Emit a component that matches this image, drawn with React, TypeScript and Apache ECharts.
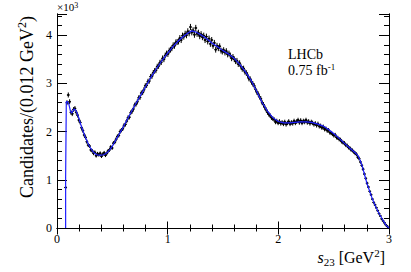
import React, { useEffect, useRef } from "react";
import * as echarts from "echarts";

// Binning: 0.012 GeV^2 bins from 0 to 3; first filled bin index
const BIN_WIDTH = 0.012;
const FIRST_BIN = 6;

// Candidates per bin (x10^3), bins 6..249
const dataValues = [
  0.84,
  2.60, 2.76, 2.62, 2.40, 2.37, 2.46, 2.48, 2.40, 2.34, 2.24,
  2.19, 2.08, 2.02, 1.93, 1.88, 1.79, 1.72, 1.70, 1.62, 1.60,
  1.55, 1.57, 1.50, 1.54, 1.52, 1.55, 1.49, 1.53, 1.56, 1.51,
  1.55, 1.60, 1.62, 1.68, 1.66, 1.76, 1.78, 1.84, 1.90, 1.92,
  2.00, 2.03, 2.06, 2.13, 2.15, 2.22, 2.29, 2.30, 2.39, 2.42,
  2.47, 2.55, 2.57, 2.62, 2.70, 2.71, 2.80, 2.81, 2.87, 2.95,
  2.96, 3.04, 3.05, 3.14, 3.15, 3.22, 3.26, 3.27, 3.35, 3.36,
  3.43, 3.44, 3.52, 3.50, 3.58, 3.62, 3.61, 3.68, 3.70, 3.73,
  3.79, 3.78, 3.85, 3.86, 3.87, 3.94, 3.90, 3.99, 3.97, 4.03,
  4.00, 4.08, 4.04, 4.17, 4.06, 4.10, 4.01, 4.15, 4.03, 4.05,
  3.98, 4.02, 3.96, 3.99, 3.90, 3.97, 3.87, 3.93, 3.82, 3.90,
  3.78, 3.84, 3.70, 3.78, 3.73, 3.77, 3.68, 3.66, 3.69, 3.64,
  3.67, 3.60, 3.62, 3.58, 3.52, 3.55, 3.50, 3.46, 3.47, 3.40,
  3.42, 3.35, 3.30, 3.31, 3.24, 3.22, 3.17, 3.10, 3.09, 3.03,
  2.99, 2.95, 2.88, 2.82, 2.78, 2.72, 2.68, 2.60, 2.56, 2.50,
  2.45, 2.40, 2.36, 2.33, 2.29, 2.27, 2.25, 2.20, 2.22, 2.18,
  2.21, 2.17, 2.19, 2.16, 2.20, 2.15, 2.18, 2.21, 2.16, 2.19,
  2.17, 2.22, 2.18, 2.21, 2.24, 2.19, 2.23, 2.18, 2.22, 2.20,
  2.24, 2.19, 2.21, 2.17, 2.20, 2.18, 2.15, 2.17, 2.13, 2.16,
  2.11, 2.12, 2.08, 2.10, 2.05, 2.06, 2.02, 2.03, 1.98, 1.97,
  1.95, 1.92, 1.93, 1.88, 1.87, 1.84, 1.83, 1.79, 1.77, 1.76,
  1.72, 1.71, 1.67, 1.66, 1.62, 1.61, 1.58, 1.55, 1.53, 1.47,
  1.44, 1.37, 1.30, 1.22, 1.12, 1.03, 0.93, 0.85, 0.76, 0.69,
  0.60, 0.53, 0.48, 0.42, 0.36, 0.30, 0.25, 0.19, 0.15, 0.11,
  0.07, 0.04, 0.01,
];

// Fit curve (x in GeV^2, y in 10^3 candidates)
const fitX = [
  0.078, 0.078, 0.084, 0.084, 0.096, 0.108, 0.12, 0.132, 0.144, 0.156, 0.168, 0.18,
  0.2, 0.22, 0.24, 0.26, 0.28, 0.3, 0.32, 0.34, 0.36, 0.38, 0.4, 0.42, 0.44, 0.46,
  0.48, 0.5, 0.52, 0.54, 0.56, 0.58, 0.6, 0.65, 0.7, 0.75, 0.8, 0.85, 0.9, 0.95,
  1.0, 1.05, 1.1, 1.15, 1.2, 1.22, 1.25, 1.3, 1.35, 1.4, 1.45, 1.5, 1.55, 1.6,
  1.65, 1.7, 1.75, 1.8, 1.85, 1.9, 1.95, 2.0, 2.05, 2.1, 2.15, 2.2, 2.25, 2.3,
  2.35, 2.4, 2.45, 2.5, 2.55, 2.6, 2.65, 2.7, 2.72, 2.74, 2.76, 2.78, 2.8, 2.82,
  2.85, 2.88, 2.91, 2.94, 2.97, 2.99, 3.0,
];
const fitY = [
  0, 1.05, 1.05, 2.62, 2.62, 2.56, 2.44, 2.38, 2.43, 2.47, 2.45, 2.39,
  2.26, 2.11, 1.98, 1.86, 1.76, 1.67, 1.6, 1.55, 1.52, 1.51, 1.51, 1.52, 1.54, 1.58,
  1.63, 1.7, 1.78, 1.86, 1.94, 2.02, 2.1, 2.32, 2.53, 2.73, 2.93, 3.13, 3.31, 3.48,
  3.63, 3.77, 3.89, 3.99, 4.07, 4.09, 4.07, 4.01, 3.93, 3.84, 3.76, 3.68, 3.61, 3.52,
  3.4, 3.25, 3.08, 2.86, 2.62, 2.43, 2.29, 2.21, 2.18, 2.18, 2.19, 2.2, 2.2, 2.19,
  2.16, 2.12, 2.05, 1.96, 1.86, 1.75, 1.65, 1.55, 1.5, 1.4, 1.27, 1.1, 0.93, 0.8,
  0.6, 0.44, 0.3, 0.18, 0.07, 0.02, 0,
];

const X_MIN = 0;
const X_MAX = 3;
const Y_MIN = 0;
const Y_MAX = 4.44;

const SERIF = "Liberation Serif";

export default function App() {
  const ref = useRef<HTMLDivElement>(null);

  useEffect(() => {
    document.body.style.margin = "0";
    if (!ref.current) return;
    const chart = echarts.init(ref.current, undefined, { renderer: "svg" });

    const points = dataValues.map((v, k) => {
      const center = (FIRST_BIN + k + 0.5) * BIN_WIDTH;
      const err = Math.sqrt(v * 1000) / 1000;
      return [center, v, err];
    });
    const fitData = fitX.map((x, i) => [x, fitY[i]]);

    const axisLine = { show: true, lineStyle: { color: "#000", width: 1 } };
    const label = { color: "#000", fontFamily: SERIF, fontSize: 12 };

    const yBase = {
      type: "value" as const,
      min: Y_MIN,
      max: Y_MAX,
      splitLine: { show: false },
      axisLine,
    };
    const xBase = {
      type: "value" as const,
      min: X_MIN,
      max: X_MAX,
      interval: 1,
      splitLine: { show: false },
      axisLine,
      minorTick: { show: true, splitNumber: 5, length: 3.5, lineStyle: { color: "#000" } },
      axisTick: { show: true, inside: true, length: 6.5, lineStyle: { color: "#000" } },
    };

    chart.setOption({
      animation: false,
      textStyle: { fontFamily: SERIF },
      grid: { left: 57, right: 22, top: 14, bottom: 44, containLabel: false },
      xAxis: [
        {
          ...xBase,
          position: "bottom",
          axisLabel: { ...label, margin: 5 },
        },
        {
          ...xBase,
          position: "top",
          axisLabel: { show: false },
        },
      ],
      yAxis: [
        {
          ...yBase,
          position: "left",
          interval: 0.2,
          axisTick: { show: true, inside: true, length: 5, lineStyle: { color: "#000" } },
          axisLabel: {
            ...label,
            margin: 5,
            formatter: (v: number) =>
              Math.abs(v - Math.round(v)) < 1e-6 ? String(Math.round(v)) : "",
          },
        },
        {
          ...yBase,
          position: "left",
          interval: 1,
          axisTick: { show: true, inside: true, length: 10, lineStyle: { color: "#000" } },
          axisLabel: { show: false },
        },
        {
          ...yBase,
          position: "right",
          interval: 0.2,
          axisTick: { show: true, inside: true, length: 5, lineStyle: { color: "#000" } },
          axisLabel: { show: false },
        },
        {
          ...yBase,
          position: "right",
          interval: 1,
          axisTick: { show: true, inside: true, length: 10, lineStyle: { color: "#000" } },
          axisLabel: { show: false },
        },
      ],
      series: [
        {
          type: "custom",
          xAxisIndex: 0,
          yAxisIndex: 0,
          data: points,
          z: 2,
          renderItem: (params: any, api: any) => {
            const x = api.value(0);
            const y = api.value(1);
            const e = api.value(2);
            const c = api.coord([x, y]);
            const top = api.coord([x, y + e]);
            const bot = api.coord([x, y - e]);
            const l = api.coord([x - BIN_WIDTH / 2, y]);
            const r = api.coord([x + BIN_WIDTH / 2, y]);
            const half = Math.max(1.4, (r[0] - l[0]) / 2);
            return {
              type: "group",
              children: [
                {
                  type: "line",
                  shape: { x1: c[0], y1: top[1], x2: c[0], y2: bot[1] },
                  style: { stroke: "#000", lineWidth: 1 },
                },
                {
                  type: "line",
                  shape: { x1: c[0] - half, y1: c[1], x2: c[0] + half, y2: c[1] },
                  style: { stroke: "#000", lineWidth: 1 },
                },
                {
                  type: "circle",
                  shape: { cx: c[0], cy: c[1], r: 1.1 },
                  style: { fill: "#000" },
                },
              ],
            };
          },
        },
        {
          type: "line",
          xAxisIndex: 0,
          yAxisIndex: 0,
          data: fitData,
          showSymbol: false,
          symbol: "none",
          z: 3,
          lineStyle: { color: "#1f1fff", width: 1.2 },
        },
      ],
      graphic: [
        {
          type: "text",
          left: 57,
          top: 1,
          style: {
            text: "{n|×10}{s|3}",
            rich: {
              n: { fontFamily: SERIF, fontSize: 11, fill: "#000", lineHeight: 12 },
              s: { fontFamily: SERIF, fontSize: 8, fill: "#000", verticalAlign: "top", lineHeight: 9 },
            },
          },
        },
        {
          type: "text",
          left: 288,
          top: 47,
          style: {
            text: "LHCb",
            fontFamily: SERIF,
            fontSize: 14,
            fill: "#000",
          },
        },
        {
          type: "text",
          left: 288,
          top: 62,
          style: {
            text: "{n|0.75 fb}{s|-1}",
            rich: {
              n: { fontFamily: SERIF, fontSize: 14, fill: "#000", lineHeight: 16 },
              s: { fontFamily: SERIF, fontSize: 9, fill: "#000", verticalAlign: "top", lineHeight: 10 },
            },
          },
        },
        {
          type: "text",
          x: 385,
          y: 257,
          style: {
            text: "{i|s}{b|23}{n| [GeV}{s|2}{n|]}",
            align: "right",
            verticalAlign: "middle",
            rich: {
              i: { fontFamily: SERIF, fontStyle: "italic", fontSize: 16, fill: "#000", lineHeight: 20 },
              b: { fontFamily: SERIF, fontSize: 11, fill: "#000", verticalAlign: "bottom", lineHeight: 14 },
              n: { fontFamily: SERIF, fontSize: 16, fill: "#000", lineHeight: 20 },
              s: { fontFamily: SERIF, fontSize: 11, fill: "#000", verticalAlign: "top", lineHeight: 12 },
            },
          },
        },
        {
          type: "text",
          x: 27,
          y: 107,
          rotation: Math.PI / 2,
          style: {
            text: "{n|Candidates/(0.012 GeV}{s|2}{n|)}",
            align: "center",
            verticalAlign: "middle",
            rich: {
              n: { fontFamily: SERIF, fontSize: 18, fill: "#000", lineHeight: 22 },
              s: { fontFamily: SERIF, fontSize: 12, fill: "#000", verticalAlign: "top", lineHeight: 13 },
            },
          },
        },
      ],
    });

    return () => {
      chart.dispose();
    };
  }, []);

  return (
    <div
      ref={ref}
      style={{ position: "absolute", left: 0, top: 0, width: 411, height: 272, background: "#fff" }}
    />
  );
}
